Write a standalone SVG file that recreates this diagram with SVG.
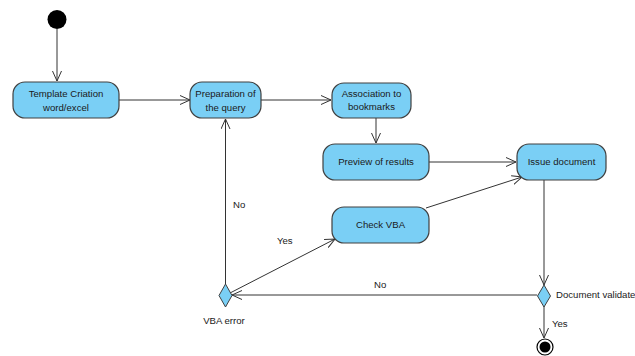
<svg xmlns="http://www.w3.org/2000/svg" width="635" height="356" viewBox="0 0 635 356">
<defs>
<marker id="arr" viewBox="0 0 10 10" refX="10" refY="5" markerWidth="10" markerHeight="10" markerUnits="userSpaceOnUse" orient="auto">
<path d="M0,0.5 L10,5 L0,9.5" fill="none" stroke="#333" stroke-width="1"/>
</marker>
<style>
.act{fill:#7acff5;stroke:#404040;stroke-width:1.2}
.dia{fill:#7acff5;stroke:#404040;stroke-width:1}
.t{font-family:"Liberation Sans",Arial,sans-serif;font-size:9.6px;fill:#1a1a1a;text-anchor:middle}
.l{font-family:"Liberation Sans",Arial,sans-serif;font-size:9.6px;fill:#1a1a1a}
.c{fill:none;stroke:#333;stroke-width:1;marker-end:url(#arr)}
</style>
</defs>
<rect width="635" height="356" fill="#fff"/>
<g id="connectors">
<line class="c" x1="57" y1="29" x2="57" y2="81"/>
<line class="c" x1="119" y1="100" x2="190" y2="100"/>
<line class="c" x1="261" y1="100" x2="331" y2="100"/>
<line class="c" x1="376" y1="118" x2="376" y2="143"/>
<line class="c" x1="429" y1="162" x2="516" y2="162"/>
<line class="c" x1="426" y1="208" x2="522" y2="177"/>
<line class="c" x1="544" y1="180" x2="544" y2="285"/>
<line class="c" x1="537" y1="295" x2="232" y2="295"/>
<line class="c" x1="230" y1="293" x2="335" y2="239"/>
<line class="c" x1="225.5" y1="284" x2="225.5" y2="119"/>
<line class="c" x1="544" y1="306" x2="544" y2="338"/>
<text class="l" x="233" y="208">No</text>
<text class="l" x="277" y="244">Yes</text>
<text class="l" x="374" y="288">No</text>
<text class="l" x="552" y="327">Yes</text>
</g>
<g id="start"><circle cx="57" cy="19.5" r="9.5" fill="#000"/></g>
<g id="template"><rect class="act" x="13" y="82" width="106" height="36" rx="12"/><text class="t" x="66" y="97">Template Criation</text><text class="t" x="66" y="111">word/excel</text></g>
<g id="preparation"><rect class="act" x="190" y="82" width="71" height="36" rx="12"/><text class="t" x="225.5" y="97">Preparation of</text><text class="t" x="225.5" y="111">the query</text></g>
<g id="association"><rect class="act" x="332" y="83" width="79" height="35" rx="12"/><text class="t" x="371.5" y="97">Association to</text><text class="t" x="371.5" y="110">bookmarks</text></g>
<g id="preview"><rect class="act" x="323" y="144" width="106" height="36" rx="12"/><text class="t" x="376" y="165">Preview of results</text></g>
<g id="issue"><rect class="act" x="517" y="144" width="89" height="36" rx="12"/><text class="t" x="561.5" y="165">Issue document</text></g>
<g id="checkvba"><rect class="act" x="332" y="207" width="97" height="36" rx="12"/><text class="t" x="380.5" y="228">Check VBA</text></g>
<g id="vbaerror"><polygon class="dia" points="225.5,284 232,295.5 225.5,307 219,295.5"/><text class="t" x="224" y="324">VBA error</text></g>
<g id="docvalidate"><polygon class="dia" points="544,285 550.5,296 544,307 537.5,296"/><text class="l" x="556" y="298">Document validate</text></g>
<g id="end"><circle cx="545" cy="347" r="8" fill="#fff" stroke="#000" stroke-width="1.2"/><circle cx="545" cy="347" r="5.5" fill="#000"/></g>
</svg>
